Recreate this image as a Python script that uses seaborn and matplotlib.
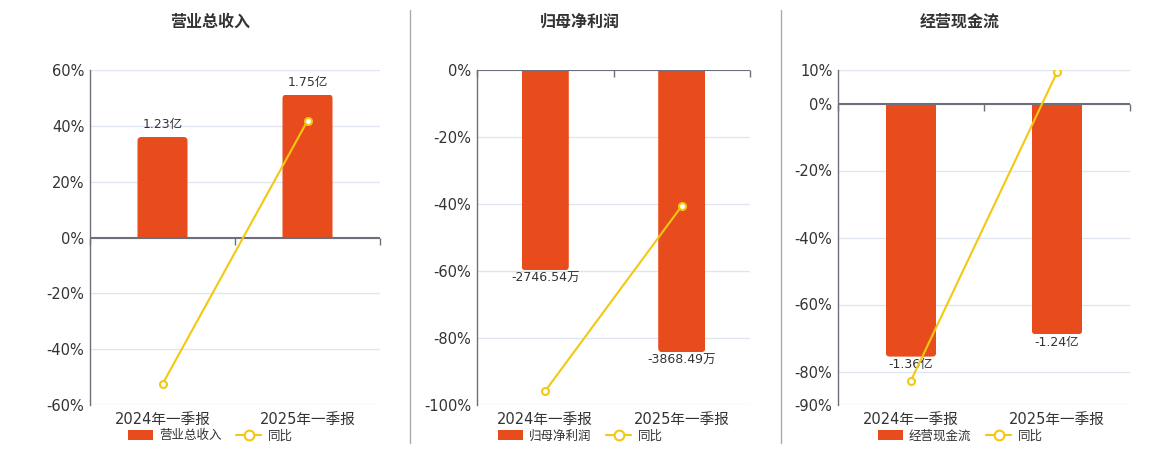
import numpy as np
import pandas as pd
import seaborn as sns
import matplotlib.pyplot as plt
from matplotlib.lines import Line2D
from matplotlib.patches import Patch, FancyBboxPatch
from matplotlib.markers import TICKDOWN

# --- data ---
periods = ['2024年一季报', '2025年一季报']
titles = ['营业总收入', '归母净利润', '经营现金流']

revenue = [1.23, 1.75]              # 亿
net_profit = [-2746.54, -3868.49]   # 万
cash_flow = [-1.36, -1.24]          # 亿
bar_texts = [['1.23亿', '1.75亿'],
             ['-2746.54万', '-3868.49万'],
             ['-1.36亿', '-1.24亿']]

yoy_revenue = [-52.5, 41.8]
yoy_profit = [-95.8, -40.6]
yoy_cash = [-82.7, 9.3]

pct_ticks = [[60, 40, 20, 0, -20, -40, -60],
             [0, -20, -40, -60, -80, -100],
             [10, 0, -20, -40, -60, -80, -90]]
pct_limits = [(-60, 60), (-100, 0), (-90, 10)]
bar_limits = [(-2.05, 2.05), (-4594, 0), (-1.62, 0.18)]

# --- style ---
BAR = '#E84C1C'
YEL = '#F2C811'
AXIS = '#6E7079'
GRID = '#E0E6F1'
TXT = '#333333'
W, H = 1160, 450

sns.set_theme(style='white')
plt.rcParams['font.family'] = ['DejaVu Sans', 'Noto Sans CJK SC']

# pixel boxes of each plot area: left, right, top, bottom
boxes = [(90, 380, 70, 405), (477, 750, 70, 405), (838, 1130, 70, 405)]
centers = [210, 580, 960]

fig = plt.figure(figsize=(W / 100, H / 100), dpi=100)

bars_all = [revenue, net_profit, cash_flow]
yoy_all = [yoy_revenue, yoy_profit, yoy_cash]
xs = np.arange(len(periods))


def round_bars(axb, xpp, ypp, radius=4):
    # swap plain rectangles for ones rounded at the far end
    for p in list(axb.patches):
        x, y0, w, h = p.get_x(), p.get_y(), p.get_width(), p.get_height()
        ext = 10 * ypp
        if h >= 0:
            lo, hi = y0 - ext, y0 + h
        else:
            lo, hi = y0 + h, y0 + ext
        fb = FancyBboxPatch((x, lo), w, hi - lo,
                            boxstyle=f'round,pad=0,rounding_size={radius * xpp}',
                            mutation_aspect=ypp / xpp, facecolor=BAR,
                            edgecolor='none', transform=axb.transData)
        axb.add_patch(fb)
        fb.set_clip_path(p)
        p.set_visible(False)


for i in range(3):
    l, r, t, b = boxes[i]
    ax = fig.add_axes([l / W, 1 - b / H, (r - l) / W, (b - t) / H])
    axb = ax.twinx()
    axl = ax.twinx()

    # bars on their own (hidden) scale
    df = pd.DataFrame({'period': periods, 'value': bars_all[i]})
    sns.barplot(data=df, x='period', y='value', ax=axb, color=BAR,
                saturation=1, width=0.345)
    axb.set_ylim(*bar_limits[i])
    axb.set_xlim(-0.5, len(periods) - 0.5)
    cont = axb.containers[0]
    pad = 4 if bars_all[i][0] > 0 else 1
    axb.bar_label(cont, labels=bar_texts[i], padding=pad, fontsize=9, color=TXT)
    xpp = len(periods) / (r - l)
    ypp = (bar_limits[i][1] - bar_limits[i][0]) / (b - t)
    round_bars(axb, xpp, ypp)
    axb.set_axis_off()

    # yoy line on the % scale
    axl.set_ylim(*pct_limits[i])
    axl.axhline(0, color=AXIS, lw=1.5, zorder=1)
    edges = np.arange(len(periods) + 1) - 0.5
    axl.plot(edges, np.zeros_like(edges), ls='', marker=TICKDOWN, ms=5,
             mew=1, color=AXIS, clip_on=False, zorder=1)
    sns.lineplot(x=xs, y=yoy_all[i], ax=axl, color=YEL, lw=1.5, marker='o',
                 markersize=5, markerfacecolor='white', markeredgecolor=YEL,
                 markeredgewidth=1.5, zorder=3)
    axl.set_axis_off()

    # % axis
    ax.set_ylim(*pct_limits[i])
    ax.set_yticks(pct_ticks[i])
    ax.set_yticklabels([f'{v}%' for v in pct_ticks[i]])
    ax.grid(axis='y', color=GRID, lw=1)
    ax.set_xlim(-0.5, len(periods) - 0.5)
    ax.set_xticks(xs)
    ax.set_xticklabels(periods)
    ax.set_xlabel('')
    ax.set_ylabel('')
    for s in ['top', 'right', 'bottom']:
        ax.spines[s].set_visible(False)
    ax.spines['left'].set_color(AXIS)
    ax.spines['left'].set_linewidth(1)
    ax.tick_params(axis='both', length=0, labelsize=10.5, colors=TXT)
    ax.tick_params(axis='x', pad=5)
    ax.tick_params(axis='y', pad=4)

    fig.text(centers[i] / W, 1 - 22 / H, titles[i], ha='center', va='center',
             fontsize=11.5, fontweight='bold', color=TXT)

    handles = [Patch(facecolor=BAR, edgecolor='none'),
               Line2D([], [], color=YEL, lw=1.5, marker='o', markersize=7,
                      markerfacecolor='white', markeredgecolor=YEL,
                      markeredgewidth=1.5)]
    fig.legend(handles, [titles[i], '同比'], loc='center',
               bbox_to_anchor=(centers[i] / W, 1 - 436 / H), ncol=2,
               frameon=False, fontsize=9, handlelength=2, handleheight=0.9,
               handletextpad=0.5, columnspacing=1.2, labelcolor=TXT)

# panel dividers
for xd in [410, 781]:
    fig.add_artist(Line2D([xd / W, xd / W], [1 - 10 / H, 1 - 443 / H],
                          color='#AAAAAA', lw=1))

fig.savefig('out.png', dpi=100)
